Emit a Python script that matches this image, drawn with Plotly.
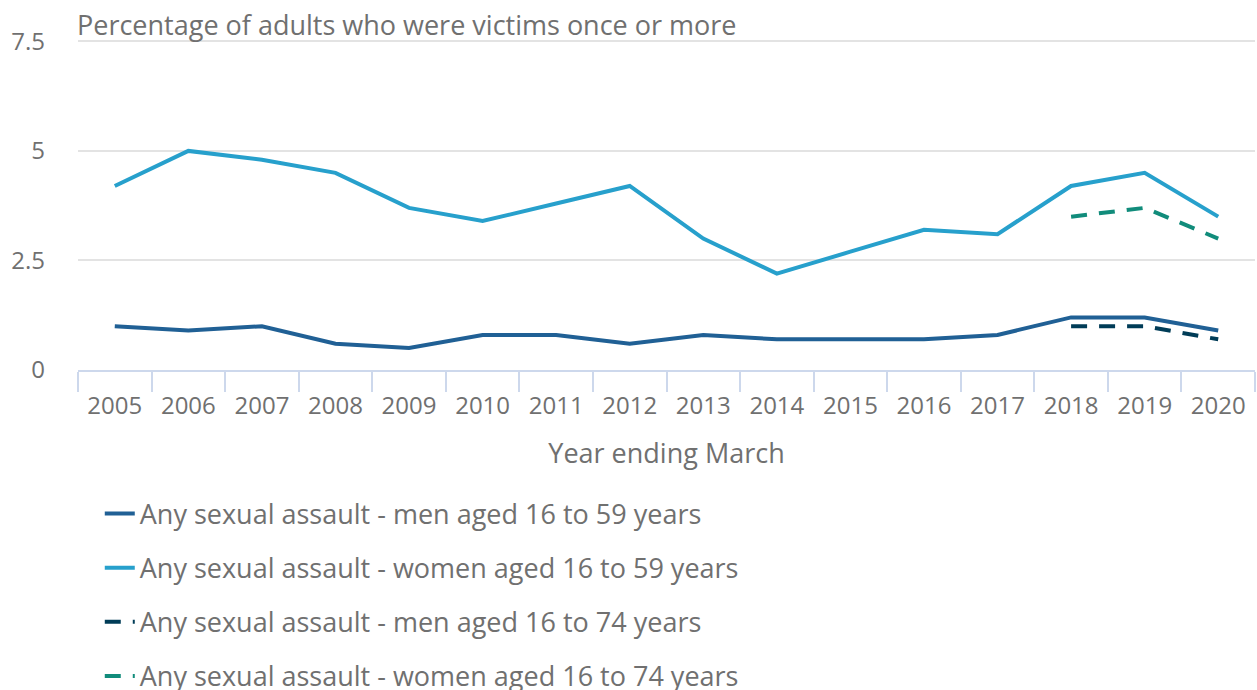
import plotly.graph_objects as go

years = [str(y) for y in range(2005, 2021)]
men_16_59 = [1.0, 0.9, 1.0, 0.6, 0.5, 0.8, 0.8, 0.6, 0.8, 0.7, 0.7, 0.7, 0.8, 1.2, 1.2, 0.9]
women_16_59 = [4.2, 5.0, 4.8, 4.5, 3.7, 3.4, 3.8, 4.2, 3.0, 2.2, 2.7, 3.2, 3.1, 4.2, 4.5, 3.5]
years_74 = ["2018", "2019", "2020"]
men_16_74 = [1.0, 1.0, 0.7]
women_16_74 = [3.5, 3.7, 3.0]

FONT = "Open Sans"
TXT = "#707070"

fig = go.Figure()
fig.add_trace(go.Scatter(x=years, y=men_16_59, mode="lines", name="Any sexual assault - men aged 16 to 59 years",
                         line=dict(color="#206095", width=4), legendgroup="a"))
fig.add_trace(go.Scatter(x=years, y=women_16_59, mode="lines", name="Any sexual assault - women aged 16 to 59 years",
                         line=dict(color="#27a0cc", width=4), legendgroup="b"))
fig.add_trace(go.Scatter(x=years_74, y=men_16_74, mode="lines", name="Any sexual assault - men aged 16 to 74 years",
                         line=dict(color="#003c57", width=4, dash="16px,12px"), legendgroup="c"))
fig.add_trace(go.Scatter(x=years_74, y=women_16_74, mode="lines", name="Any sexual assault - women aged 16 to 74 years",
                         line=dict(color="#118c7b", width=4, dash="16px,12px"), legendgroup="d"))

fig.update_layout(
    width=1257, height=690,
    margin=dict(l=78, r=2, t=36.6, b=320, autoexpand=False),
    paper_bgcolor="white", plot_bgcolor="white",
    font=dict(family=FONT, size=27, color=TXT),
    hovermode=False,
    showlegend=True,
    legend=dict(orientation="v", x=0.0185, xanchor="left", y=-0.359, yanchor="top",
                font=dict(size=27, color=TXT), tracegroupgap=16, traceorder="grouped"),
    xaxis=dict(type="category", categoryorder="array", categoryarray=years, automargin=False,
               range=[-0.5, 15.5], showgrid=False, showline=True, linecolor="#cdd8ec", linewidth=2,
               ticks="outside", tickson="boundaries", ticklen=20, tickcolor="#cdd8ec", tickwidth=2,
               ticklabelstandoff=13, tickfont=dict(size=24, color=TXT),
               title=dict(text="Year ending March", font=dict(size=27, color=TXT), standoff=24),
               zeroline=False),
    yaxis=dict(range=[0, 7.6], tickvals=[0, 2.5, 5, 7.5], ticktext=["0", "2.5", "5", "7.5"], automargin=False,
               showgrid=True, gridcolor="#e3e3e3", gridwidth=2, zeroline=False, showline=False,
               ticks="", ticklabelstandoff=32, tickfont=dict(size=24, color=TXT)),
    annotations=[dict(text="Percentage of adults who were victims once or more", xref="paper", yref="paper",
                      x=0, y=1, xanchor="left", yanchor="bottom", yshift=-8, xshift=-3, showarrow=False,
                      font=dict(size=27, color=TXT))],
)

fig.write_html("out.html", config={"displayModeBar": False},
               post_script="document.body.style.margin='0';document.body.style.padding='0';")
